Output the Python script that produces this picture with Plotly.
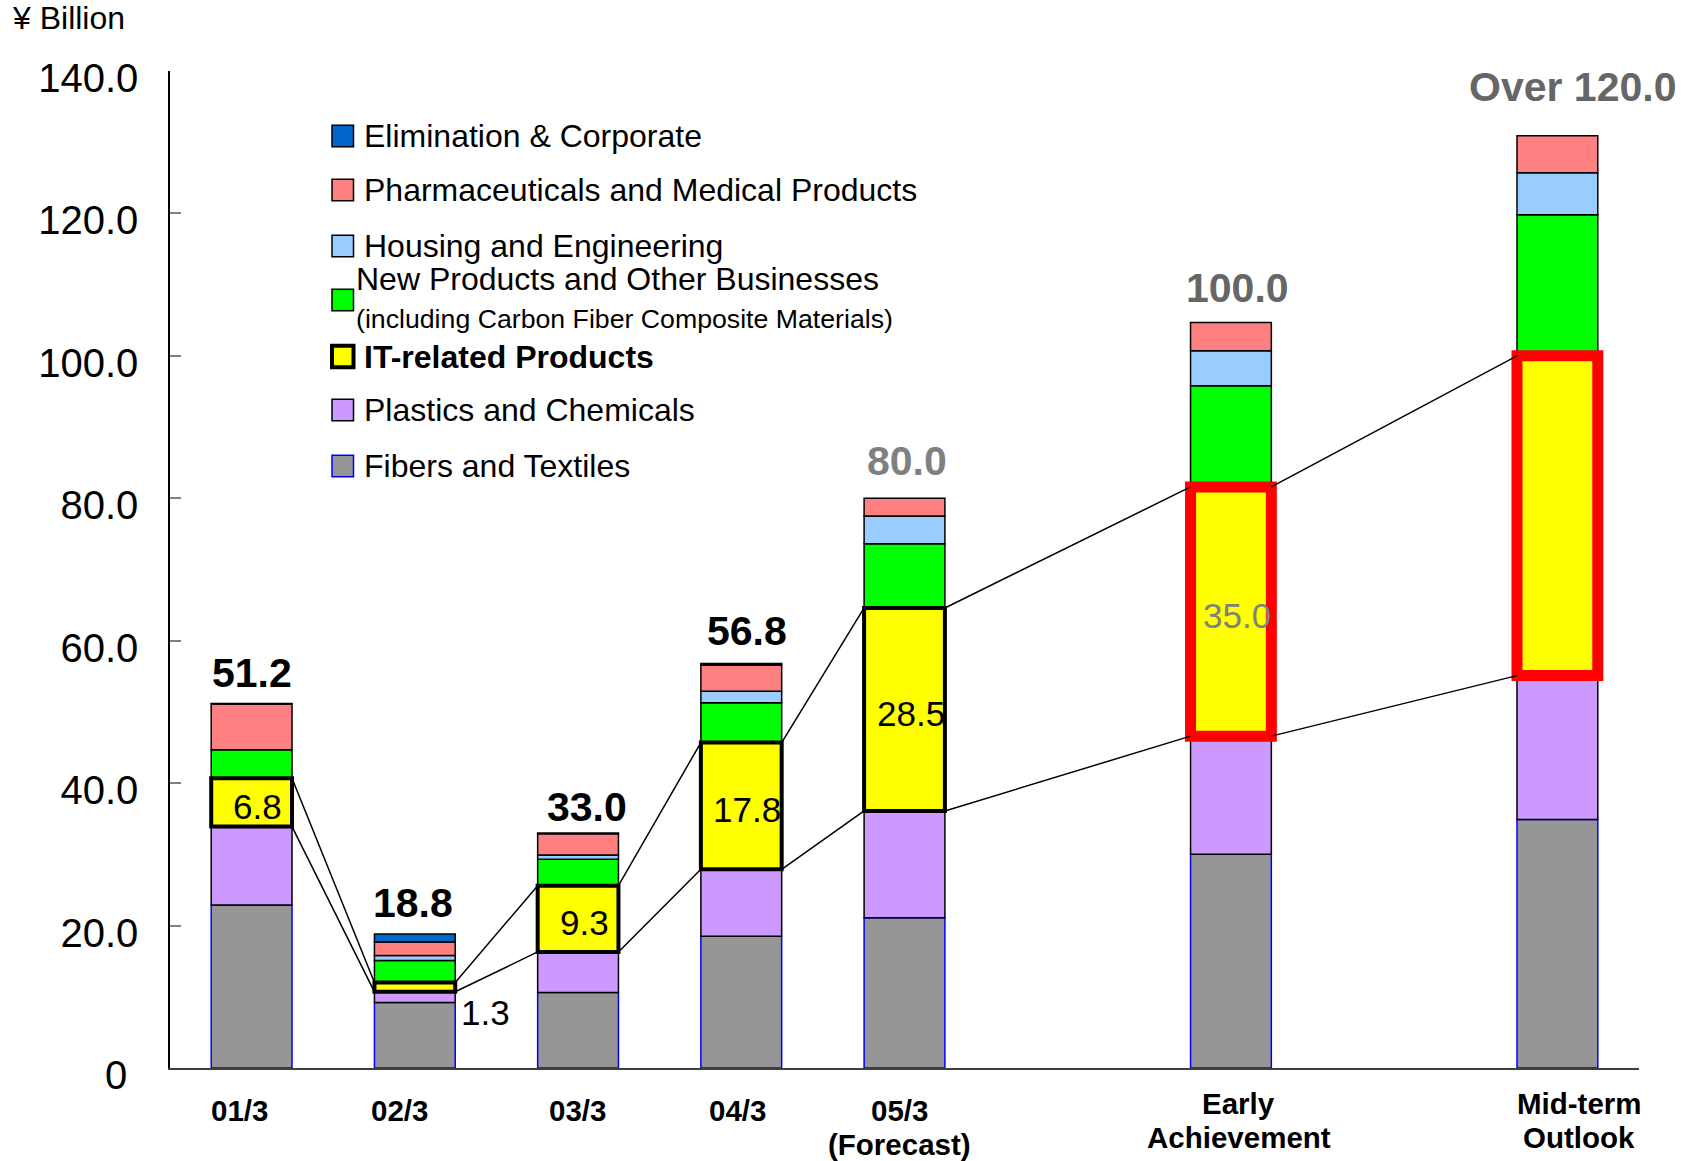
import numpy as np
import plotly.graph_objects as go

# ---------------------------------------------------------------------------
# Operating income by business segment (¥ billion)
# ---------------------------------------------------------------------------
categories = ["01/3", "02/3", "03/3", "04/3", "05/3<br>(Forecast)",
              "Early<br>Achievement", "Mid-term<br>Outlook"]

fibers_textiles       = [22.9, 9.2, 10.6, 18.5, 21.1, 30.0, 34.9]
plastics_chemicals    = [11.0, 1.5,  5.7,  9.4, 15.0, 16.6, 20.2]
it_related            = [ 6.8, 1.3,  9.3, 17.8, 28.5, 35.0, 44.9]
new_products          = [ 4.0, 3.1,  3.7,  5.6,  9.0, 14.2, 19.8]
housing_engineering   = [ 0.0, 0.7,  0.6,  1.6,  3.9,  4.9,  5.9]
pharma_medical        = [ 6.4, 1.9,  3.0,  3.7,  2.5,  4.0,  5.2]
elimination_corporate = [ 0.1, 1.1,  0.1,  0.2,  0.0,  0.0,  0.0]

total_labels = ["51.2", "18.8", "33.0", "56.8", "80.0", "100.0", "Over 120.0"]

y_tick_values = [0, 20, 40, 60, 80, 100, 120, 140]
y_tick_text = ["0\u00a0", "20.0", "40.0", "60.0", "80.0", "100.0", "120.0", "140.0"]

# ---------------------------------------------------------------------------
# Layout constants
# ---------------------------------------------------------------------------
W, H = 1695, 1161
L, R, T, B = 170, 1639, 71, 1068          # plot area in pixels
FONT = "Liberation Sans, Arial, sans-serif"
slots = [0, 1, 2, 3, 4, 6, 8]             # x slot of each category
BAR_W = 0.495
n_actual = 5                               # first five are results/forecast


def fx(p):
    return (p - L) / (R - L)


def fy(p):
    return (B - p) / (B - T)


def nz(vals):
    return [v if v else None for v in vals]


# stacking order, bottom to top
stack = [
    ("Fibers and Textiles", fibers_textiles, "#969696", "#0000FF", 1.5),
    ("Plastics and Chemicals", plastics_chemicals, "#CC99FF", "#000000", 1.5),
    ("IT-related Products", it_related, "#FFFF00", "#000000", 4),
    ("New Products and Other Businesses", new_products, "#00FF00", "#000000", 1.5),
    ("Housing and Engineering", housing_engineering, "#99CCFF", "#000000", 1.5),
    ("Pharmaceuticals and Medical Products", pharma_medical, "#FF8080", "#000000", 1.5),
    ("Elimination & Corporate", elimination_corporate, "#0066CC", "#000000", 1.5),
]

values = np.array([s[1] for s in stack], dtype=float)
cums = np.cumsum(values, axis=0)
bases = np.vstack([np.zeros(values.shape[1]), cums[:-1]])
tops = cums[-1]

fig = go.Figure()

# connector lines between IT-related segments of neighbouring bars
it_idx = 2
it_bot = bases[it_idx]
it_top = bases[it_idx] + values[it_idx]
lx, ly = [], []
for i in range(len(slots) - 1):
    for edge in (it_top, it_bot):
        lx += [slots[i] + BAR_W / 2, slots[i + 1] - BAR_W / 2, None]
        ly += [edge[i], edge[i + 1], None]

# segments other than IT first, IT on top so its frame stays visible
for k, (name, vals, fill, line, lw) in enumerate(stack):
    if k == it_idx:
        continue
    fig.add_trace(go.Bar(
        x=slots, y=nz(vals), base=list(bases[k]), width=BAR_W,
        marker=dict(color=fill, line=dict(color=line, width=lw)),
        name=name, showlegend=False, hoverinfo="skip",
    ))

fig.add_trace(go.Scatter(
    x=lx, y=ly, mode="lines", line=dict(color="#000000", width=1.5),
    showlegend=False, hoverinfo="skip",
))

name, vals, fill, line, lw = stack[it_idx]
fig.add_trace(go.Bar(
    x=slots[:n_actual], y=vals[:n_actual], base=list(bases[it_idx][:n_actual]),
    width=BAR_W, marker=dict(color=fill, line=dict(color="#000000", width=4)),
    name=name, showlegend=False, hoverinfo="skip",
))
fig.add_trace(go.Bar(
    x=slots[n_actual:], y=vals[n_actual:], base=list(bases[it_idx][n_actual:]),
    width=BAR_W, marker=dict(color=fill, line=dict(color="#FF0000", width=11)),
    name=name + " (target)", showlegend=False, hoverinfo="skip",
))

annotations = []

# IT-related values inside / beside the yellow segments
for i, v in enumerate(it_related):
    if i == len(it_related) - 1:
        continue
    if i == 1:
        annotations.append(dict(
            x=slots[i] + BAR_W / 2, y=it_bot[i], xref="x", yref="y",
            text=f"{v:.1f}", showarrow=False, xanchor="left", yanchor="middle",
            xshift=4, yshift=-21, font=dict(family=FONT, size=35, color="#000000"),
        ))
        continue
    annotations.append(dict(
        x=slots[i], y=it_bot[i] + v / 2, xref="x", yref="y",
        text=f"{v:.1f}", showarrow=False, xanchor="center", yanchor="middle",
        xshift=6, yshift=-4,
        font=dict(family=FONT, size=35,
                  color="#000000" if i < n_actual else "#808080"),
    ))

# totals above the bars
total_colors = ["#000000"] * 4 + ["#808080", "#666666", "#666666"]
total_gap = [14, 15, 10, 17, 21, 18, 33]
total_dx = [0, -2, 9, 6, 2, 7, 15]
for i, txt in enumerate(total_labels):
    annotations.append(dict(
        x=slots[i], y=tops[i], xref="x", yref="y", text=f"<b>{txt}</b>",
        showarrow=False, xanchor="center", yanchor="bottom",
        xshift=total_dx[i], yshift=total_gap[i] - 9,
        font=dict(family=FONT, size=41, color=total_colors[i]),
    ))

# category labels under the axis, one annotation per text line
cat_dx = [-12, -15, -1, -4, -5, 8, 22]
cat_first_line = [1110, 1110, 1110, 1110, 1110, 1103, 1103]
CAT_LINE = 34.5
for i, c in enumerate(categories):
    for j, part in enumerate(c.split("<br>")):
        annotations.append(dict(
            x=slots[i], y=fy(cat_first_line[i] + j * CAT_LINE),
            xref="x", yref="paper", text=f"<b>{part}</b>",
            showarrow=False, xanchor="center", yanchor="middle",
            xshift=cat_dx[i],
            font=dict(family=FONT, size=29.5, color="#000000"),
        ))

# unit label
annotations.append(dict(
    x=fx(10), y=fy(18), xref="paper", yref="paper", text="¥ Billion",
    showarrow=False, xanchor="left", yanchor="middle",
    font=dict(family=FONT, size=32, color="#000000"),
))

# legend, top entry first
shapes = []
legend_rows = [
    (6, 136, "Elimination & Corporate"),
    (5, 190, "Pharmaceuticals and Medical Products"),
    (4, 246, "Housing and Engineering"),
    (3, 300, None),
    (2, 356.5, "<b>IT-related Products</b>"),
    (1, 410, "Plastics and Chemicals"),
    (0, 466, "Fibers and Textiles"),
]
for k, cy, label in legend_rows:
    _, _, fill, line, lw = stack[k]
    shapes.append(dict(
        type="rect", xref="paper", yref="paper",
        x0=fx(332), x1=fx(353.5), y0=fy(cy + 10.75), y1=fy(cy - 10.75),
        fillcolor=fill, line=dict(color=line, width=lw),
    ))
    if label is not None:
        annotations.append(dict(
            x=fx(362), y=fy(cy), xref="paper", yref="paper", text=label,
            showarrow=False, xanchor="left", yanchor="middle",
            font=dict(family=FONT, size=32, color="#000000"),
        ))
annotations.append(dict(
    x=fx(354), y=fy(279), xref="paper", yref="paper",
    text="New Products and Other Businesses", showarrow=False,
    xanchor="left", yanchor="middle",
    font=dict(family=FONT, size=32, color="#000000"),
))
annotations.append(dict(
    x=fx(354), y=fy(319), xref="paper", yref="paper",
    text="(including Carbon Fiber Composite Materials)", showarrow=False,
    xanchor="left", yanchor="middle",
    font=dict(family=FONT, size=26.7, color="#000000"),
))

fig.update_layout(
    width=W, height=H,
    margin=dict(l=L, r=W - R, t=T, b=H - B, pad=0),
    paper_bgcolor="#FFFFFF", plot_bgcolor="#FFFFFF",
    barmode="overlay", showlegend=False,
    font=dict(family=FONT, color="#000000"),
    annotations=annotations, shapes=shapes,
    xaxis=dict(
        range=[-0.5, 8.5], showticklabels=False, ticks="", showgrid=False,
        zeroline=False, showline=True, linecolor="#404040", linewidth=1.5,
        fixedrange=True,
    ),
    yaxis=dict(
        range=[0, 140], tickvals=y_tick_values, ticktext=y_tick_text,
        ticks="inside", ticklen=11, tickwidth=1.5, tickcolor="#808080",
        showgrid=False, zeroline=False, showline=True, linecolor="#000000",
        linewidth=1.5, tickfont=dict(family=FONT, size=40, color="#000000"),
        ticklabelstandoff=22, ticklabelshift=7, fixedrange=True,
    ),
)

fig.write_html("out.html")
